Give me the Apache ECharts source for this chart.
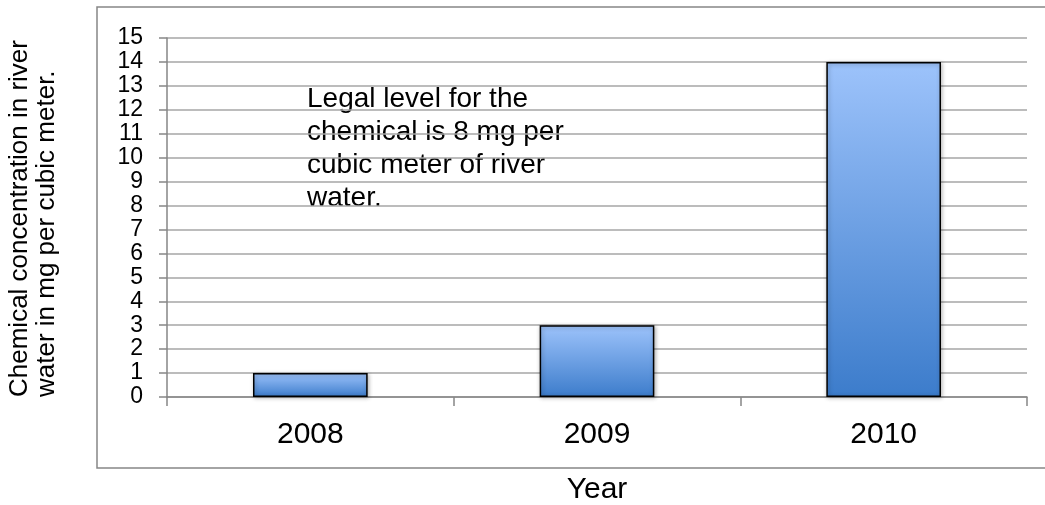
<!DOCTYPE html>
<html>
<head>
<meta charset="utf-8">
<script src="https://cdn.jsdelivr.net/npm/echarts@6/dist/echarts.min.js"></script>
<style>
html,body{margin:0;padding:0;background:#fff;}
#chart{width:1045px;height:505px;}
</style>
</head>
<body>
<div id="chart"></div>
<script>
const categories = ['2008', '2009', '2010'];
const concentration = [1, 3, 14];
const yAxisTitleLines = ['Chemical concentration in river', 'water in mg per cubic meter.'];
const xAxisTitle = 'Year';
const noteText = 'Legal level for the\nchemical is 8 mg per\ncubic meter of river\nwater.';

const FONT = '"Liberation Sans", Arial, sans-serif';
const chart = echarts.init(document.getElementById('chart'), null, {renderer: 'canvas'});

const option = {
  backgroundColor: '#fff',
  animation: false,
  grid: {left: 167, top: 38, right: 18, bottom: 108, containLabel: false, outerBoundsMode: 'none'},
  xAxis: {
    type: 'category',
    data: categories,
    boundaryGap: true,
    name: xAxisTitle,
    nameLocation: 'middle',
    nameGap: 78,
    nameTextStyle: {fontFamily: FONT, fontSize: 30, color: '#000'},
    axisLine: {show: true, lineStyle: {color: '#868686', width: 1.5}},
    axisTick: {show: true, length: 9, alignWithLabel: false, lineStyle: {color: '#868686', width: 1.5}},
    axisLabel: {fontFamily: FONT, fontSize: 30, color: '#000', margin: 23},
    splitLine: {show: false}
  },
  yAxis: {
    type: 'value',
    min: 0,
    max: 15,
    interval: 1,
    axisLine: {show: true, lineStyle: {color: '#868686', width: 1.5}},
    axisTick: {show: true, length: 8, inside: false, lineStyle: {color: '#868686', width: 1.5}},
    axisLabel: {fontFamily: FONT, fontSize: 23, color: '#000', margin: 24},
    splitLine: {show: true, lineStyle: {color: '#A6A6A6', width: 1.5}}
  },
  series: [{
    type: 'bar',
    data: concentration,
    barWidth: '40%',
    itemStyle: {
      color: new echarts.graphic.LinearGradient(0, 0, 0, 1, [
        {offset: 0, color: '#9DC3FB'},
        {offset: 1, color: '#3C7CCB'}
      ]),
      borderColor: '#000',
      borderWidth: 1.5,
      shadowBlur: 4,
      shadowColor: 'rgba(0,0,0,0.3)',
      shadowOffsetX: 1,
      shadowOffsetY: 1
    }
  }],
  graphic: [
    {
      type: 'rect',
      silent: true,
      z: -1,
      shape: {x: 97, y: 7, width: 960, height: 461},
      style: {fill: 'none', stroke: '#868686', lineWidth: 1.5}
    },
    {
      type: 'text',
      silent: true,
      x: 307,
      y: 83,
      style: {
        text: noteText,
        fontFamily: FONT,
        fontSize: 28,
        lineHeight: 33,
        fill: '#000',
        textAlign: 'left',
        textVerticalAlign: 'top'
      }
    },
    {
      type: 'text',
      silent: true,
      x: 20,
      y: 397,
      rotation: Math.PI / 2,
      style: {
        text: yAxisTitleLines[0],
        fontFamily: FONT,
        fontSize: 26,
        fill: '#000',
        textAlign: 'left',
        textVerticalAlign: 'middle'
      }
    },
    {
      type: 'text',
      silent: true,
      x: 47,
      y: 397,
      rotation: Math.PI / 2,
      style: {
        text: yAxisTitleLines[1],
        fontFamily: FONT,
        fontSize: 26,
        fill: '#000',
        textAlign: 'left',
        textVerticalAlign: 'middle'
      }
    }
  ]
};
chart.setOption(option);
</script>
</body>
</html>
